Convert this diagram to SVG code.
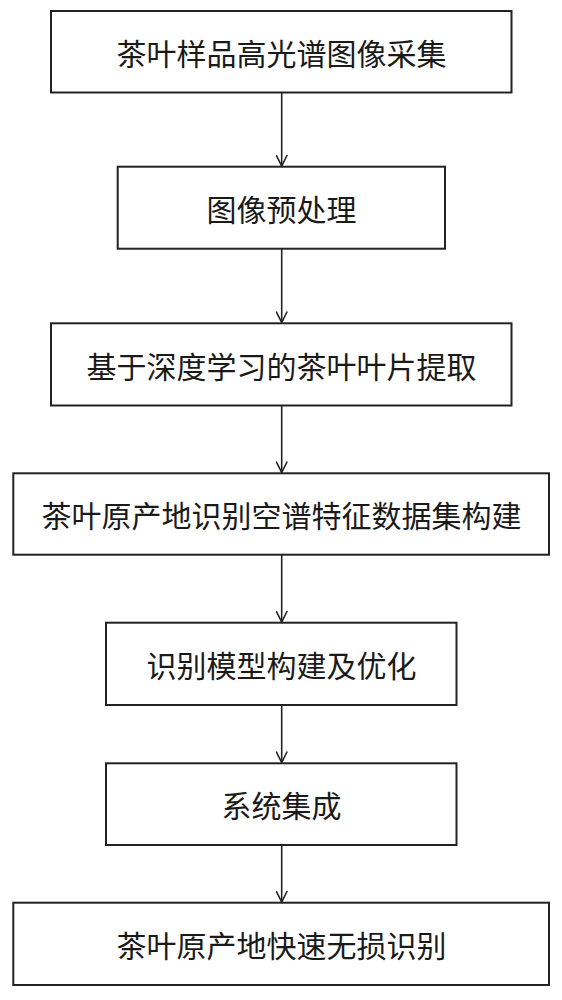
<svg xmlns="http://www.w3.org/2000/svg" width="562" height="1000" viewBox="0 0 562 1000">
<style>
.box{fill:#fff;stroke:#222;stroke-width:2}
.lbl{font-family:"Noto Sans CJK SC","Noto Sans",sans-serif;font-size:30px;fill:#1a1a1a;text-anchor:middle;dominant-baseline:central}
.conn{stroke:#222;stroke-width:1.6;fill:none}
</style>
<defs>
<marker id="arr" markerWidth="14" markerHeight="12" refX="12" refY="6" orient="auto" markerUnits="userSpaceOnUse">
<path d="M1,0.5 L12,6 L1,11.5" fill="none" stroke="#222" stroke-width="1.6"/>
</marker>
</defs>
<rect width="562" height="1000" fill="#fff"/>
<g id="connectors">
<line class="conn" x1="281.7" y1="92.5" x2="281.7" y2="166" marker-end="url(#arr)"/>
<line class="conn" x1="281.7" y1="248.7" x2="281.7" y2="322.5" marker-end="url(#arr)"/>
<line class="conn" x1="281.7" y1="405.5" x2="281.7" y2="472.5" marker-end="url(#arr)"/>
<line class="conn" x1="281.7" y1="554.7" x2="281.7" y2="622" marker-end="url(#arr)"/>
<line class="conn" x1="281.7" y1="705" x2="281.7" y2="762.5" marker-end="url(#arr)"/>
<line class="conn" x1="281.7" y1="845" x2="281.7" y2="902" marker-end="url(#arr)"/>
</g>
<g id="n1"><rect class="box" x="51" y="11" width="460.5" height="81.5"/><text class="lbl" x="281.5" y="52">茶叶样品高光谱图像采集</text></g>
<g id="n2"><rect class="box" x="117.7" y="166.7" width="327.3" height="82"/><text class="lbl" x="281.5" y="208">图像预处理</text></g>
<g id="n3"><rect class="box" x="51" y="323.3" width="460.5" height="82.2"/><text class="lbl" x="281.5" y="364.5">基于深度学习的茶叶叶片提取</text></g>
<g id="n4"><rect class="box" x="13.3" y="473.3" width="535.7" height="81.4"/><text class="lbl" x="281.5" y="514">茶叶原产地识别空谱特征数据集构建</text></g>
<g id="n5"><rect class="box" x="106" y="622.7" width="350.5" height="82.3"/><text class="lbl" x="281.5" y="664">识别模型构建及优化</text></g>
<g id="n6"><rect class="box" x="106" y="763.3" width="350.5" height="81.7"/><text class="lbl" x="281.5" y="804">系统集成</text></g>
<g id="n7"><rect class="box" x="13.3" y="902.7" width="535.7" height="82.3"/><text class="lbl" x="281.5" y="944">茶叶原产地快速无损识别</text></g>
</svg>
